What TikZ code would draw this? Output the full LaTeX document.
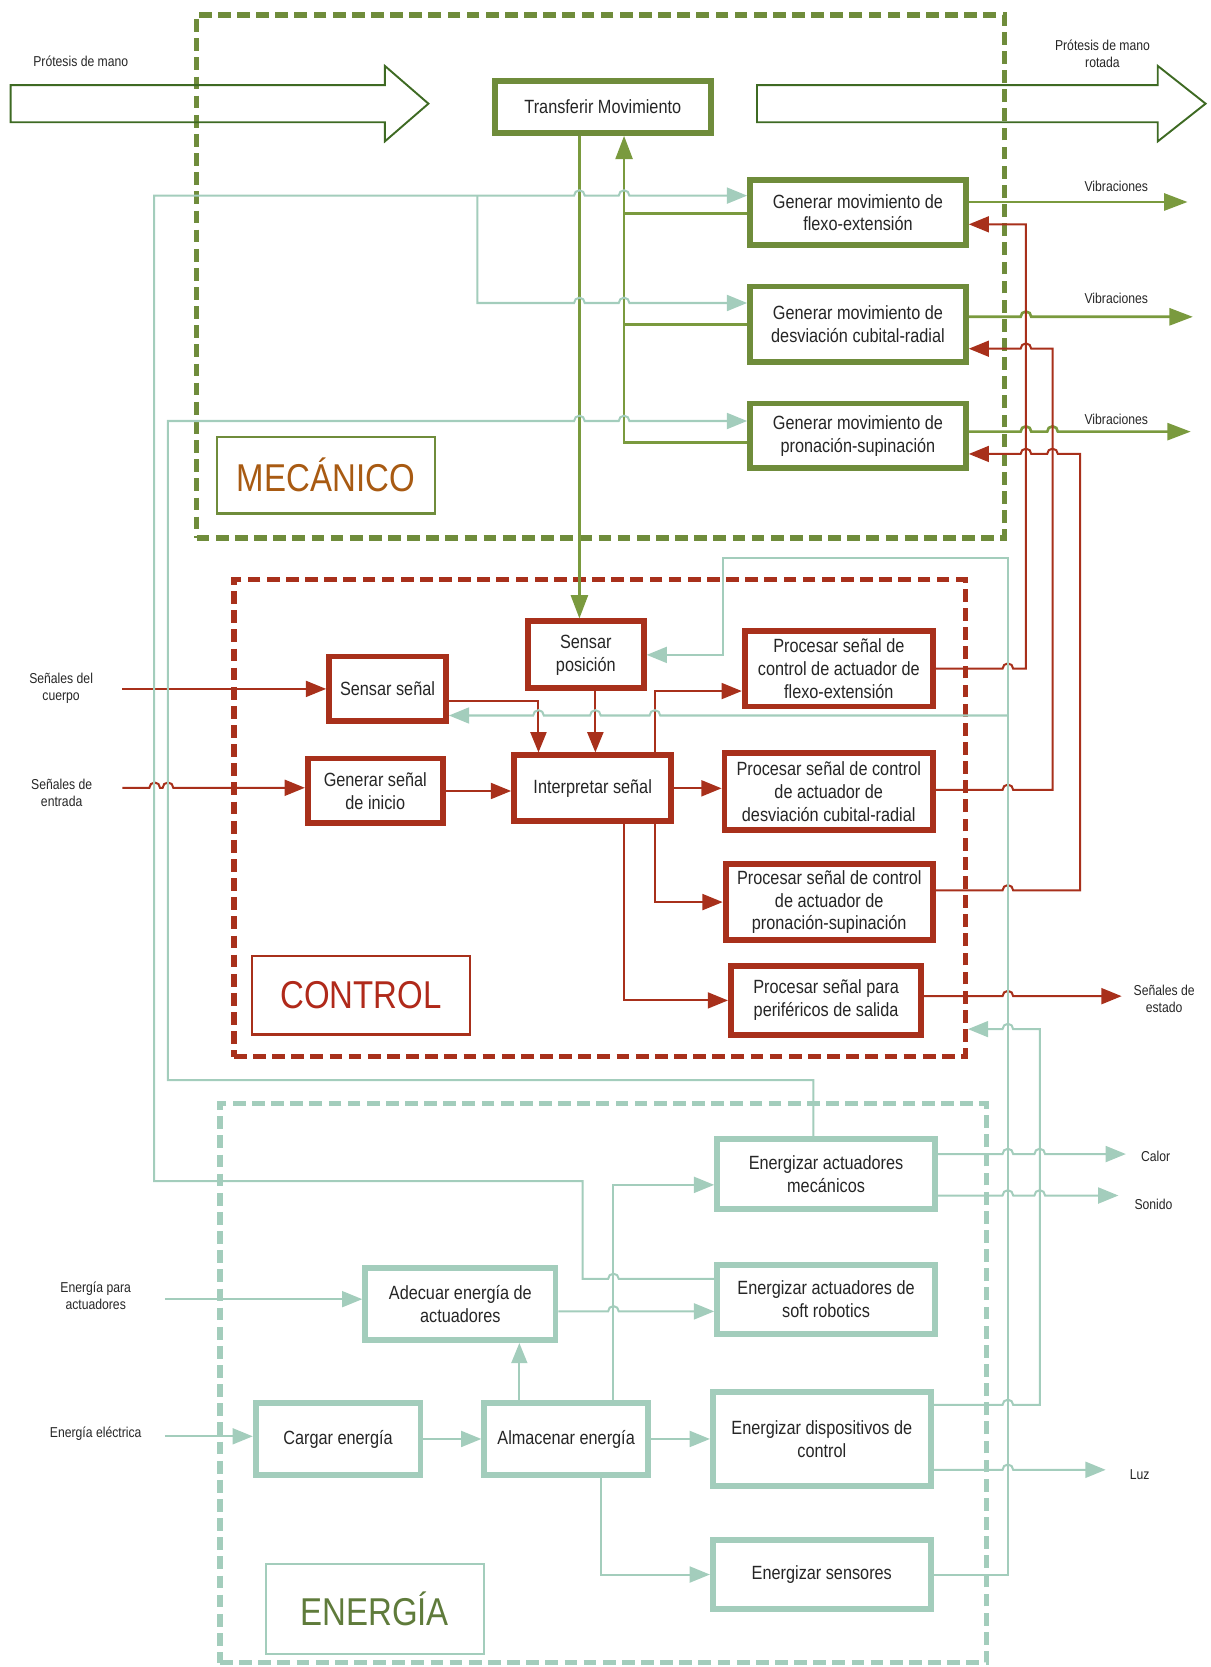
\documentclass[tikz,border=0pt]{standalone}
\usepackage{fontspec}
\setmainfont{Liberation Sans}[FakeStretch=0.85]
\usetikzlibrary{arrows.meta,calc}

\definecolor{olivo}{HTML}{6F8C3B}
\definecolor{verdelinea}{HTML}{7A9A3E}
\definecolor{rojizo}{HTML}{A8301B}
\definecolor{menta}{HTML}{A3CDBC}
\definecolor{musgo}{HTML}{3E6A23}
\definecolor{tinta}{HTML}{262626}
\definecolor{ocre}{HTML}{A85A12}
\definecolor{carmin}{HTML}{B0291A}
\definecolor{oliva}{HTML}{5F7B3B}

\begin{document}
\begin{tikzpicture}[x=1pt,y=-1pt,
    caja/.style={draw,line width=5.5pt,fill=white,text=tinta,align=center,inner sep=0pt,
      font=\fontsize{18}{21.5}\selectfont},
    cmec/.style={caja,draw=olivo},
    cctl/.style={caja,draw=rojizo},
    cene/.style={caja,draw=menta},
    grupo/.style={line width=5pt,dash pattern=on 12pt off 6pt,inner sep=0pt},
    titulo/.style={line width=2pt,fill=white,inner sep=0pt,minimum width=205pt,
      font=\fontsize{36.5}{40}\selectfont},
    nota/.style={text=tinta,align=center,inner sep=0pt,font=\fontsize{13.5}{16}\selectfont},
    lmec/.style={draw=verdelinea,line width=2.5pt},
    lctl/.style={draw=rojizo,line width=1.9pt},
    lene/.style={draw=menta,line width=1.9pt},
    punta/.style={-{Triangle[length=19pt,width=15pt]}},
    hueca/.style={draw=musgo,line width=1.8pt}]
  \useasboundingbox (0,0) rectangle (1139,1568);

  \node[grupo,draw=olivo,minimum width=760pt,minimum height=492pt] (dMec) at (565,260) {};
  \node[grupo,draw=rojizo,minimum width=688pt,minimum height=449pt] (dCtl) at (564,769.5) {};
  \node[grupo,draw=menta,minimum width=721pt,minimum height=526pt] (dEne) at (567.5,1301) {};

  \draw[hueca] (10,80) -- (362,80) -- (362,62) -- (403,97.5) -- (362,133) -- (362,115) -- (10,115) -- cycle;
  \draw[hueca] (712,80) -- (1089,80) -- (1089,62) -- (1134,97.5) -- (1089,133) -- (1089,115) -- (712,115) -- cycle;
  \node[nota] (lPin) at (76,58) {Prótesis de mano};
  \node[nota] (lPout) at (1037,51) {Prótesis de mano\\rotada};

  \node[cmec,minimum width=203pt,minimum height=49pt] (tMov) at (567,100.5) {Transferir Movimiento};
  \node[cmec,minimum width=203pt,minimum height=61pt] (gFlex) at (807,200) {Generar movimiento de\\flexo-extensión};
  \node[cmec,minimum width=203pt,minimum height=71pt] (gDesv) at (807,305) {Generar movimiento de\\desviación cubital-radial};
  \node[cmec,minimum width=203pt,minimum height=61pt] (gPron) at (807,410) {Generar movimiento de\\pronación-supinación};
  \node[titulo,draw=olivo,text=ocre,minimum height=72pt] (tMec) at (306.5,447) {MECÁNICO};

  \node[cctl,minimum width=109pt,minimum height=63pt] (sPos) at (551,616) {Sensar\\posición};
  \node[cctl,minimum width=110pt,minimum height=61pt] (sSen) at (364.5,648) {Sensar señal};
  \node[cctl,minimum width=127pt,minimum height=61pt] (gIni) at (353,744) {Generar señal\\de inicio};
  \node[cctl,minimum width=148pt,minimum height=62pt] (iSen) at (557.5,741.5) {Interpretar señal};
  \node[cctl,minimum width=177pt,minimum height=71pt] (pFlex) at (789,629) {Procesar señal de\\control de actuador de\\flexo-extensión};
  \node[cctl,minimum width=196pt,minimum height=72pt] (pDesv) at (779.5,744.5) {Procesar señal de control\\de actuador de\\desviación cubital-radial};
  \node[cctl,minimum width=195pt,minimum height=72pt] (pPron) at (780,848.5) {Procesar señal de control\\de actuador de\\pronación-supinación};
  \node[cctl,minimum width=179pt,minimum height=65pt] (pPer) at (777,941) {Procesar señal para\\periféricos de salida};
  \node[titulo,draw=rojizo,text=carmin,minimum height=74pt] (tCtl) at (339.5,936) {CONTROL};

  \node[cene,minimum width=179pt,minimum height=68pt] (aAct) at (433,1226.5) {Adecuar energía de\\actuadores};
  \node[cene,minimum width=155pt,minimum height=68pt] (cEne) at (318,1353.5) {Cargar energía};
  \node[cene,minimum width=154pt,minimum height=68pt] (aEne) at (532.5,1353.5) {Almacenar energía};
  \node[cene,minimum width=205pt,minimum height=66pt] (eMec) at (777,1104.5) {Energizar actuadores\\mecánicos};
  \node[cene,minimum width=205pt,minimum height=65pt] (eSoft) at (777,1222) {Energizar actuadores de\\soft robotics};
  \node[cene,minimum width=205pt,minimum height=88pt] (eDisp) at (773,1353.5) {Energizar dispositivos de\\control};
  \node[cene,minimum width=205pt,minimum height=65pt] (eSen) at (773,1481) {Energizar sensores};
  \node[titulo,draw=menta,text=oliva,minimum height=85pt] (tEne) at (352.5,1513.5) {ENERGÍA};

  \node[nota] (lVib1) at (1050,175) {Vibraciones};
  \node[nota] (lVib2) at (1050,281) {Vibraciones};
  \node[nota] (lVib3) at (1050,394) {Vibraciones};
  \node[nota] (lSc) at (57.5,647) {Señales del\\cuerpo};
  \node[nota] (lSe) at (58,746) {Señales de\\entrada};
  \node[nota] (lEst) at (1095,940) {Señales de\\estado};
  \node[nota] (lEa) at (90,1219) {Energía para\\actuadores};
  \node[nota] (lEe) at (90,1349) {Energía eléctrica};
  \node[nota] (lCal) at (1087,1088) {Calor};
  \node[nota] (lSon) at (1085,1133) {Sonido};
  \node[nota] (lLuz) at (1072,1387) {Luz};

  \coordinate (oV1) at (1117,190);
  \coordinate (oV2) at (1122,298);
  \coordinate (oV3) at (1120,406);
  \coordinate (iSc) at (115,648);
  \coordinate (iSe) at (115,741);
  \coordinate (oEst) at (1055,937);
  \coordinate (iEa) at (155,1222);
  \coordinate (iEe) at (155,1351);
  \coordinate (oCal) at (1059,1085.5);
  \coordinate (oSon) at (1052,1124.5);
  \coordinate (oLuz) at (1040,1382.5);
  \coordinate (jA) at (449,184);
  \coordinate (jB) at (948,673);

  \begin{scope}[lmec]
    \draw[-{Triangle[length=22pt,width=16pt]}] ($(tMov.south)+(-22,0)$) -- ($(sPos.north)+(-6,0)$);
    \draw[-{Triangle[length=22pt,width=16pt]}] ($(gPron.west)+(0,6)$) -| ($(tMov.south)+(20,0)$);
    \draw ($(gFlex.west)+(0,1)$) -- (587,201);
    \draw (gDesv.west) -- (587,305);
    \draw[-{Triangle[length=22pt,width=16pt]}] ($(gFlex.east)+(0,-10)$) -- (oV1);
    \draw[-{Triangle[length=22pt,width=16pt]}] ($(gDesv.east)+(0,-7)$) -- (960,298) arc[start angle=180,end angle=360,radius=5] -- (oV2);
    \draw[-{Triangle[length=22pt,width=16pt]}] ($(gPron.east)+(0,-4)$) -- (960,406) arc[start angle=180,end angle=360,radius=5]
      -- (985,406) arc[start angle=180,end angle=360,radius=5] -- (oV3);
  \end{scope}

  \begin{scope}[lctl]
    \draw[punta] (iSc) -- (sSen.west |- iSc);
    \draw[punta] (iSe) -- (140.5,741) arc[start angle=180,end angle=360,radius=5]
      -- (153,741) arc[start angle=180,end angle=360,radius=5] -- (gIni.west |- iSe);
    \draw[punta] ($(sSen.east)+(0,11)$) -| ($(iSen.north)+(-51,0)$);
    \draw[punta] ($(sPos.south)+(9,0)$) -- ($(iSen.north)+(2.5,0)$);
    \draw[punta] (gIni.east) -- (gIni.east -| iSen.west);
    \draw[punta] (iSen.east) -- (iSen.east -| pDesv.west);
    \draw[punta] ($(iSen.north)+(58.5,0)$) |- ($(pFlex.west)+(0,21)$);
    \draw[punta] ($(iSen.south)+(58.5,0)$) |- (pPron.west);
    \draw[punta] ($(iSen.south)+(29.5,0)$) |- (pPer.west);
    \draw[punta] ($(pPer.east)+(0,-4)$) -- (943,937) arc[start angle=180,end angle=360,radius=5] -- (oEst);
    \draw[punta] (pFlex.east) -- (943,629) arc[start angle=180,end angle=360,radius=5]
      -- (965,629) -- (965,211) -- ($(gFlex.east)+(0,11)$);
    \draw[punta] ($(pDesv.east)+(0,-1.5)$) -- (943,743) arc[start angle=180,end angle=360,radius=5]
      -- (990,743) -- (990,328) -- (970,328) arc[start angle=0,end angle=-180,radius=5]
      -- ($(gDesv.east)+(0,23)$);
    \draw[punta] ($(pPron.east)+(0,-11)$) -- (943,837.5) arc[start angle=180,end angle=360,radius=5]
      -- (1016,837.5) -- (1016,427) -- (995,427) arc[start angle=0,end angle=-180,radius=5]
      -- (970,427) arc[start angle=0,end angle=-180,radius=5] -- ($(gPron.east)+(0,17)$);
  \end{scope}

  \begin{scope}[lene]
    \draw[punta] ($(eSoft.west)+(0,-19)$) -- (582,1203) arc[start angle=0,end angle=-180,radius=5]
      -- (548,1203) -- (548,1111) -- (145,1111) -- (145,184)
      -- (540,184) arc[start angle=180,end angle=360,radius=5]
      -- (582,184) arc[start angle=180,end angle=360,radius=5] -- ($(gFlex.west)+(0,-16)$);
    \draw[punta] (jA) -- (449,285) -- (540,285) arc[start angle=180,end angle=360,radius=5]
      -- (582,285) arc[start angle=180,end angle=360,radius=5] -- ($(gDesv.west)+(0,-20)$);
    \draw[punta] ($(eMec.north)+(-12,0)$) -- (765,1016) -- (158,1016) -- (158,396)
      -- (540,396) arc[start angle=180,end angle=360,radius=5]
      -- (582,396) arc[start angle=180,end angle=360,radius=5] -- ($(gPron.west)+(0,-14)$);
    \draw[punta] (eSen.east) -- (948,1481) -- (948,525) -- (680,525) |- (sPos.east);
    \draw[punta] (jB) -- (621,673) arc[start angle=0,end angle=-180,radius=5]
      -- (565,673) arc[start angle=0,end angle=-180,radius=5]
      -- (511.5,673) arc[start angle=0,end angle=-180,radius=5] -- (sSen.east |- jB);
    \draw[punta] ($(eDisp.east)+(0,-32)$) -- (943,1321.5) arc[start angle=180,end angle=360,radius=5]
      -- (978,1321.5) -- (978,968) -- (953,968) arc[start angle=0,end angle=-180,radius=5]
      -- (dCtl.east |- 0,968);
    \draw[punta] (iEa) -- (aAct.west |- iEa);
    \draw[punta] (iEe) -- (cEne.west |- iEe);
    \draw[punta] (cEne.east) -- (aEne.west);
    \draw[punta] ($(aEne.north)+(-44,0)$) -- ($(aAct.south)+(55.5,0)$);
    \draw[punta] ($(aAct.east)+(0,7)$) -- (572,1233.5) arc[start angle=180,end angle=360,radius=5]
      -- ($(eSoft.west)+(0,11.5)$);
    \draw[punta] ($(aEne.north)+(44.5,0)$) |- ($(eMec.west)+(0,10)$);
    \draw[punta] (aEne.east) -- (eDisp.west);
    \draw[punta] ($(aEne.south)+(33,0)$) |- (eSen.west);
    \draw[punta] ($(eMec.east)+(0,-19)$) -- (943,1085.5) arc[start angle=180,end angle=360,radius=5]
      -- (973,1085.5) arc[start angle=180,end angle=360,radius=5] -- (oCal);
    \draw[punta] ($(eMec.east)+(0,20)$) -- (943,1124.5) arc[start angle=180,end angle=360,radius=5]
      -- (973,1124.5) arc[start angle=180,end angle=360,radius=5] -- (oSon);
    \draw[punta] ($(eDisp.east)+(0,29)$) -- (943,1382.5) arc[start angle=180,end angle=360,radius=5]
      -- (oLuz);
  \end{scope}
\end{tikzpicture}
\end{document}
